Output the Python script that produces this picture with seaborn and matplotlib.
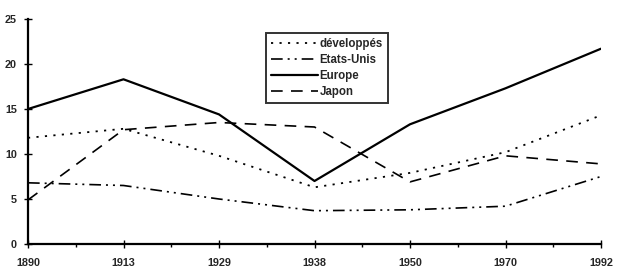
import matplotlib
matplotlib.use("Agg")
import matplotlib.pyplot as plt
import seaborn as sns
import pandas as pd
from matplotlib.ticker import MultipleLocator

years = ["1890", "1913", "1929", "1938", "1950", "1970", "1992"]
developpes = [11.8, 12.8, 9.8, 6.3, 7.9, 10.2, 14.3]
etats_unis = [6.8, 6.5, 5.0, 3.7, 3.8, 4.2, 7.5]
europe = [15.0, 18.3, 14.4, 7.0, 13.3, 17.3, 21.7]
japon = [4.9, 12.7, 13.5, 13.0, 6.9, 9.8, 8.9]

series = [
    ("développés", developpes, (0, (1.2, 3.5)), 1.3),
    ("Etats-Unis", etats_unis, (0, (7, 3, 1.2, 3, 1.2, 3)), 1.2),
    ("Europe", europe, "-", 1.6),
    ("Japon", japon, (0, (7, 5)), 1.2),
]

sns.set_style("white")
plt.rcParams['font.family'] = ['Liberation Sans', 'DejaVu Sans']

fig = plt.figure(figsize=(6.21, 2.71), dpi=100)
ax = fig.add_axes([28 / 621, 27 / 271, 573 / 621, 225 / 271])

xs = list(range(len(years)))
for name, vals, ls, lw in series:
    df = pd.DataFrame({"x": xs, "y": vals})
    sns.lineplot(data=df, x="x", y="y", ax=ax, color="black", linestyle=ls,
                 linewidth=lw, label=name)

ax.set_xlim(0, len(years) - 1)
ax.set_ylim(0, 25)
ax.set_xticks(xs)
ax.set_xticklabels(years)
ax.xaxis.set_minor_locator(MultipleLocator(0.5))
ax.yaxis.set_major_locator(MultipleLocator(5))
ax.set_xlabel("")
ax.set_ylabel("")
for s in ["top", "right"]:
    ax.spines[s].set_visible(False)
for s in ["left", "bottom"]:
    ax.spines[s].set_color("black")
    ax.spines[s].set_linewidth(1.6)
ax.tick_params(axis="both", which="major", direction="inout", length=6, width=1,
               color="black", labelsize=7.8, pad=7, bottom=True, left=True)
ax.tick_params(axis="y", which="major", pad=5)
ax.tick_params(axis="x", which="minor", bottom=True, direction="out", length=2.5,
               width=1, color="black")
for lab in ax.get_xticklabels() + ax.get_yticklabels():
    lab.set_fontweight("bold")

leg = ax.legend(loc="upper left", bbox_to_anchor=(238 / 573, 0.94), frameon=True,
                fancybox=False, edgecolor="black", prop={"weight": "bold", "size": 8.3},
                handlelength=4.1, handletextpad=0.1, borderpad=0.45, labelspacing=0.35,
                borderaxespad=0)
leg.get_frame().set_linewidth(1.4)

fig.savefig("out.png", dpi=100)
